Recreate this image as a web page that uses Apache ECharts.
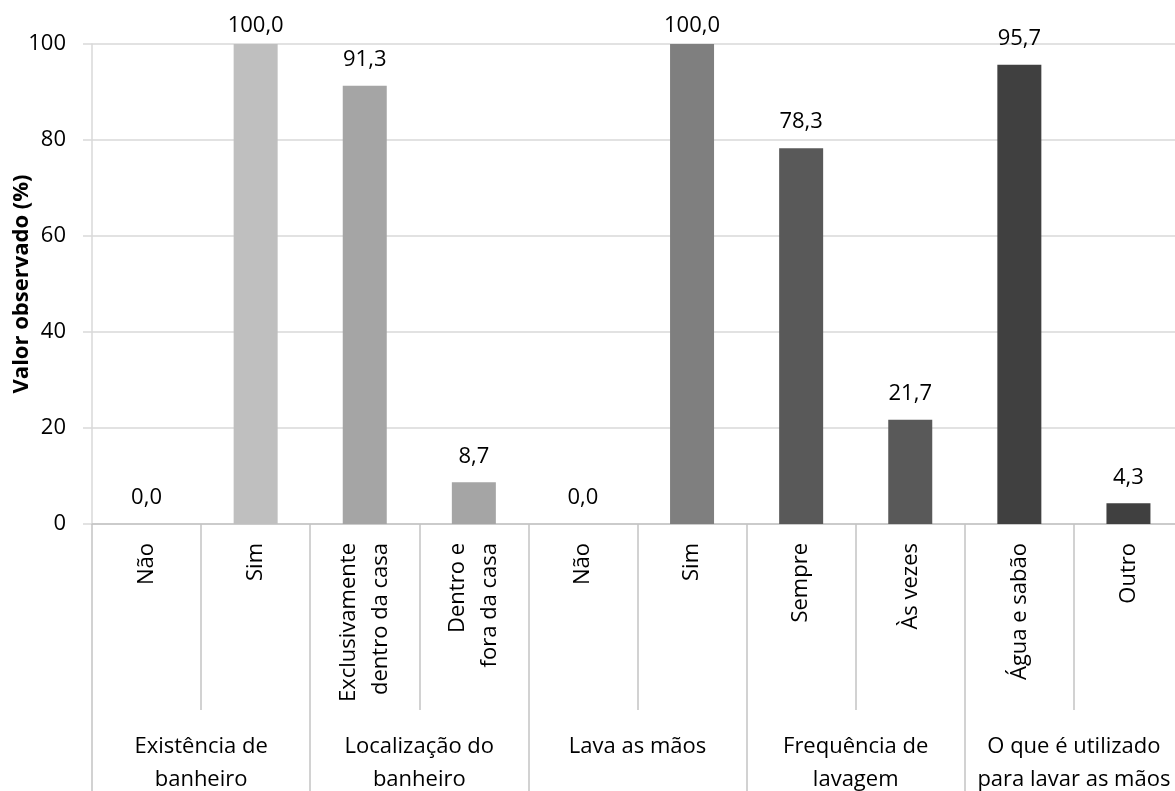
<!DOCTYPE html>
<html>
<head>
<meta charset="utf-8">
<script src="https://cdn.jsdelivr.net/npm/echarts@6/dist/echarts.min.js"></script>
<style>
  html, body { margin: 0; padding: 0; background: #fff; }
  #chart { width: 1175px; height: 791px; }
</style>
</head>
<body>
<div id="chart"></div>
<script>
// ---- data ----
const groups = [
  'Existência de\nbanheiro',
  'Localização do\nbanheiro',
  'Lava as mãos',
  'Frequência de\nlavagem',
  'O que é utilizado\npara lavar as mãos'
];
const subcategories = [
  'Não', 'Sim',
  'Exclusivamente\ndentro da casa', 'Dentro e\nfora da casa',
  'Não', 'Sim',
  'Sempre', 'Às vezes',
  'Água e sabão', 'Outro'
];
const groupOfSub = [0, 0, 1, 1, 2, 2, 3, 3, 4, 4];
const values = [0.0, 100.0, 91.3, 8.7, 0.0, 100.0, 78.3, 21.7, 95.7, 4.3];
const yTicks = [0, 20, 40, 60, 80, 100];

// ---- styling ----
const groupColors = ['#bfbfbf', '#a5a5a5', '#7f7f7f', '#595959', '#404040'];
const FONT = 'Open Sans';
const axisGray = '#c4c4c4';

const chart = echarts.init(document.getElementById('chart'));
chart.setOption({
  animation: false,
  textStyle: { fontFamily: FONT },
  grid: { left: 92, top: 44, width: 1091, bottom: 267, containLabel: false, outerBoundsMode: 'none' },
  xAxis: [
    {
      type: 'category',
      data: subcategories,
      position: 'bottom',
      axisLine: { show: true, lineStyle: { color: axisGray, width: 1.5 } },
      axisTick: { show: true, interval: 0, length: 186, lineStyle: { color: axisGray, width: 1.5 } },
      axisLabel: {
        interval: 0, rotate: 90, margin: 19,
        fontFamily: FONT, fontSize: 22, color: '#000', lineHeight: 32
      }
    },
    {
      type: 'category',
      data: groups,
      position: 'bottom',
      gridIndex: 0,
      axisLine: { show: false },
      axisTick: { show: true, interval: 0, length: 272, lineStyle: { color: axisGray, width: 1.5 } },
      axisLabel: {
        interval: 0, margin: 206,
        fontFamily: FONT, fontSize: 22, color: '#000', lineHeight: 33
      }
    }
  ],
  yAxis: {
    type: 'value',
    min: yTicks[0], max: yTicks[yTicks.length - 1], interval: 20,
    name: 'Valor observado (%)',
    nameLocation: 'middle',
    nameGap: 59,
    nameMoveOverlap: false,
    nameTextStyle: { fontFamily: FONT, fontSize: 22, fontWeight: 'bold', color: '#000' },
    axisLine: { show: true, lineStyle: { color: '#d9d9d9', width: 1.5 } },
    axisTick: { show: true, length: 9, lineStyle: { color: '#d9d9d9', width: 1.5 } },
    axisLabel: { margin: 26, fontFamily: FONT, fontSize: 22, color: '#000' },
    splitLine: { show: true, lineStyle: { color: '#d9d9d9', width: 1.5 } }
  },
  series: [{
    type: 'bar',
    xAxisIndex: 0,
    barWidth: 44,
    data: values.map((v, i) => ({
      value: v,
      itemStyle: { color: groupColors[groupOfSub[i]] },
      label: { distance: v >= 99.5 ? 7 : 15 }
    })),
    label: {
      show: true,
      position: 'top',
      fontFamily: FONT,
      fontSize: 22,
      color: '#000',
      formatter: p => p.value.toFixed(1).replace('.', ',')
    }
  }]
});
</script>
</body>
</html>
